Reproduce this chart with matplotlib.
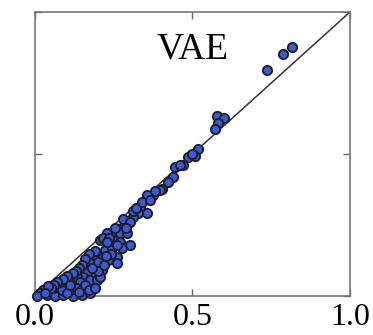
import matplotlib
matplotlib.use("Agg")
import matplotlib.pyplot as plt

# true vs. predicted values (VAE panel)
x_vals = [
    0.815, 0.786, 0.738,
    0.577, 0.600, 0.582, 0.571,
    0.519, 0.508, 0.487, 0.471, 0.444, 0.439, 0.423, 0.402, 0.376,
    0.355, 0.397, 0.333, 0.355, 0.328, 0.312, 0.291, 0.270, 0.249, 0.228,
    0.270, 0.291, 0.249, 0.270, 0.302, 0.275, 0.222, 0.243, 0.212, 0.233,
    0.259, 0.259, 0.185, 0.175, 0.196, 0.212, 0.185, 0.164, 0.153, 0.132,
    0.122, 0.143, 0.111, 0.090, 0.175, 0.196, 0.206,
    0.037, 0.063, 0.090, 0.122, 0.148, 0.175,
    0.026, 0.058, 0.085, 0.111, 0.132, 0.153,
    0.079, 0.101, 0.016, 0.005,
    0.205, 0.215, 0.235, 0.255, 0.280, 0.300, 0.310, 0.320, 0.290, 0.260,
    0.240, 0.225, 0.200, 0.190, 0.170, 0.160, 0.150, 0.140, 0.130, 0.120,
    0.100, 0.090, 0.070, 0.060, 0.050, 0.040, 0.030, 0.100, 0.110, 0.160,
    0.170, 0.140, 0.190, 0.200, 0.180, 0.220, 0.230, 0.340, 0.365, 0.380,
    0.460, 0.500,
]
y_vals = [
    0.878, 0.852, 0.796,
    0.634, 0.626, 0.608, 0.588,
    0.517, 0.493, 0.490, 0.461, 0.455, 0.420, 0.402, 0.376, 0.356,
    0.356, 0.373, 0.309, 0.291, 0.291, 0.279, 0.256, 0.238, 0.221, 0.221,
    0.221, 0.221, 0.197, 0.191, 0.180, 0.168, 0.162, 0.168, 0.133, 0.127,
    0.138, 0.115, 0.138, 0.115, 0.103, 0.092, 0.080, 0.086, 0.068, 0.068,
    0.056, 0.050, 0.045, 0.033, 0.056, 0.056, 0.068,
    0.004, 0.000, 0.004, 0.000, 0.004, 0.010,
    0.021, 0.027, 0.021, 0.021, 0.027, 0.027,
    0.050, 0.056, 0.010, 0.000,
    0.198, 0.205, 0.205, 0.240, 0.270, 0.260, 0.300, 0.310, 0.240, 0.180,
    0.150, 0.140, 0.120, 0.160, 0.150, 0.130, 0.110, 0.100, 0.090, 0.080,
    0.070, 0.060, 0.050, 0.040, 0.030, 0.035, 0.010, 0.010, 0.040, 0.040,
    0.020, 0.015, 0.030, 0.090, 0.100, 0.110, 0.190, 0.330, 0.340, 0.370,
    0.460, 0.500,
]
tick_pos = [0.0, 0.5, 1.0]
tick_labels = ["0.0", "0.5", "1.0"]
title = "VAE"

plt.rcParams["font.family"] = ["Liberation Serif", "DejaVu Serif"]

fig = plt.figure(figsize=(3.73, 3.35), dpi=100)
ax = fig.add_axes([0.094, 0.116, 0.844, 0.848])

ax.plot([0, 1], [0, 1], color="#333333", linewidth=1.1, zorder=2)
ax.scatter(x_vals, y_vals, s=44, facecolor="#3b5bd6", edgecolor="#1e1e28",
           linewidth=1.4, zorder=3, clip_on=False)

ax.text(0.5, 0.87, title, ha="center", va="center", fontsize=27,
        transform=ax.transAxes)

ax.set_xlim(0, 1)
ax.set_ylim(0, 1)
ax.set_xticks(tick_pos)
ax.set_xticklabels(tick_labels, fontsize=23)
ax.set_yticks(tick_pos)
ax.set_yticklabels([])
ax.tick_params(direction="in", top=True, right=True, length=5, width=1.0,
               color="#666666", pad=5)
for spine in ax.spines.values():
    spine.set_color("#777777")
    spine.set_linewidth(1.2)

fig.savefig("out.png", dpi=100)
